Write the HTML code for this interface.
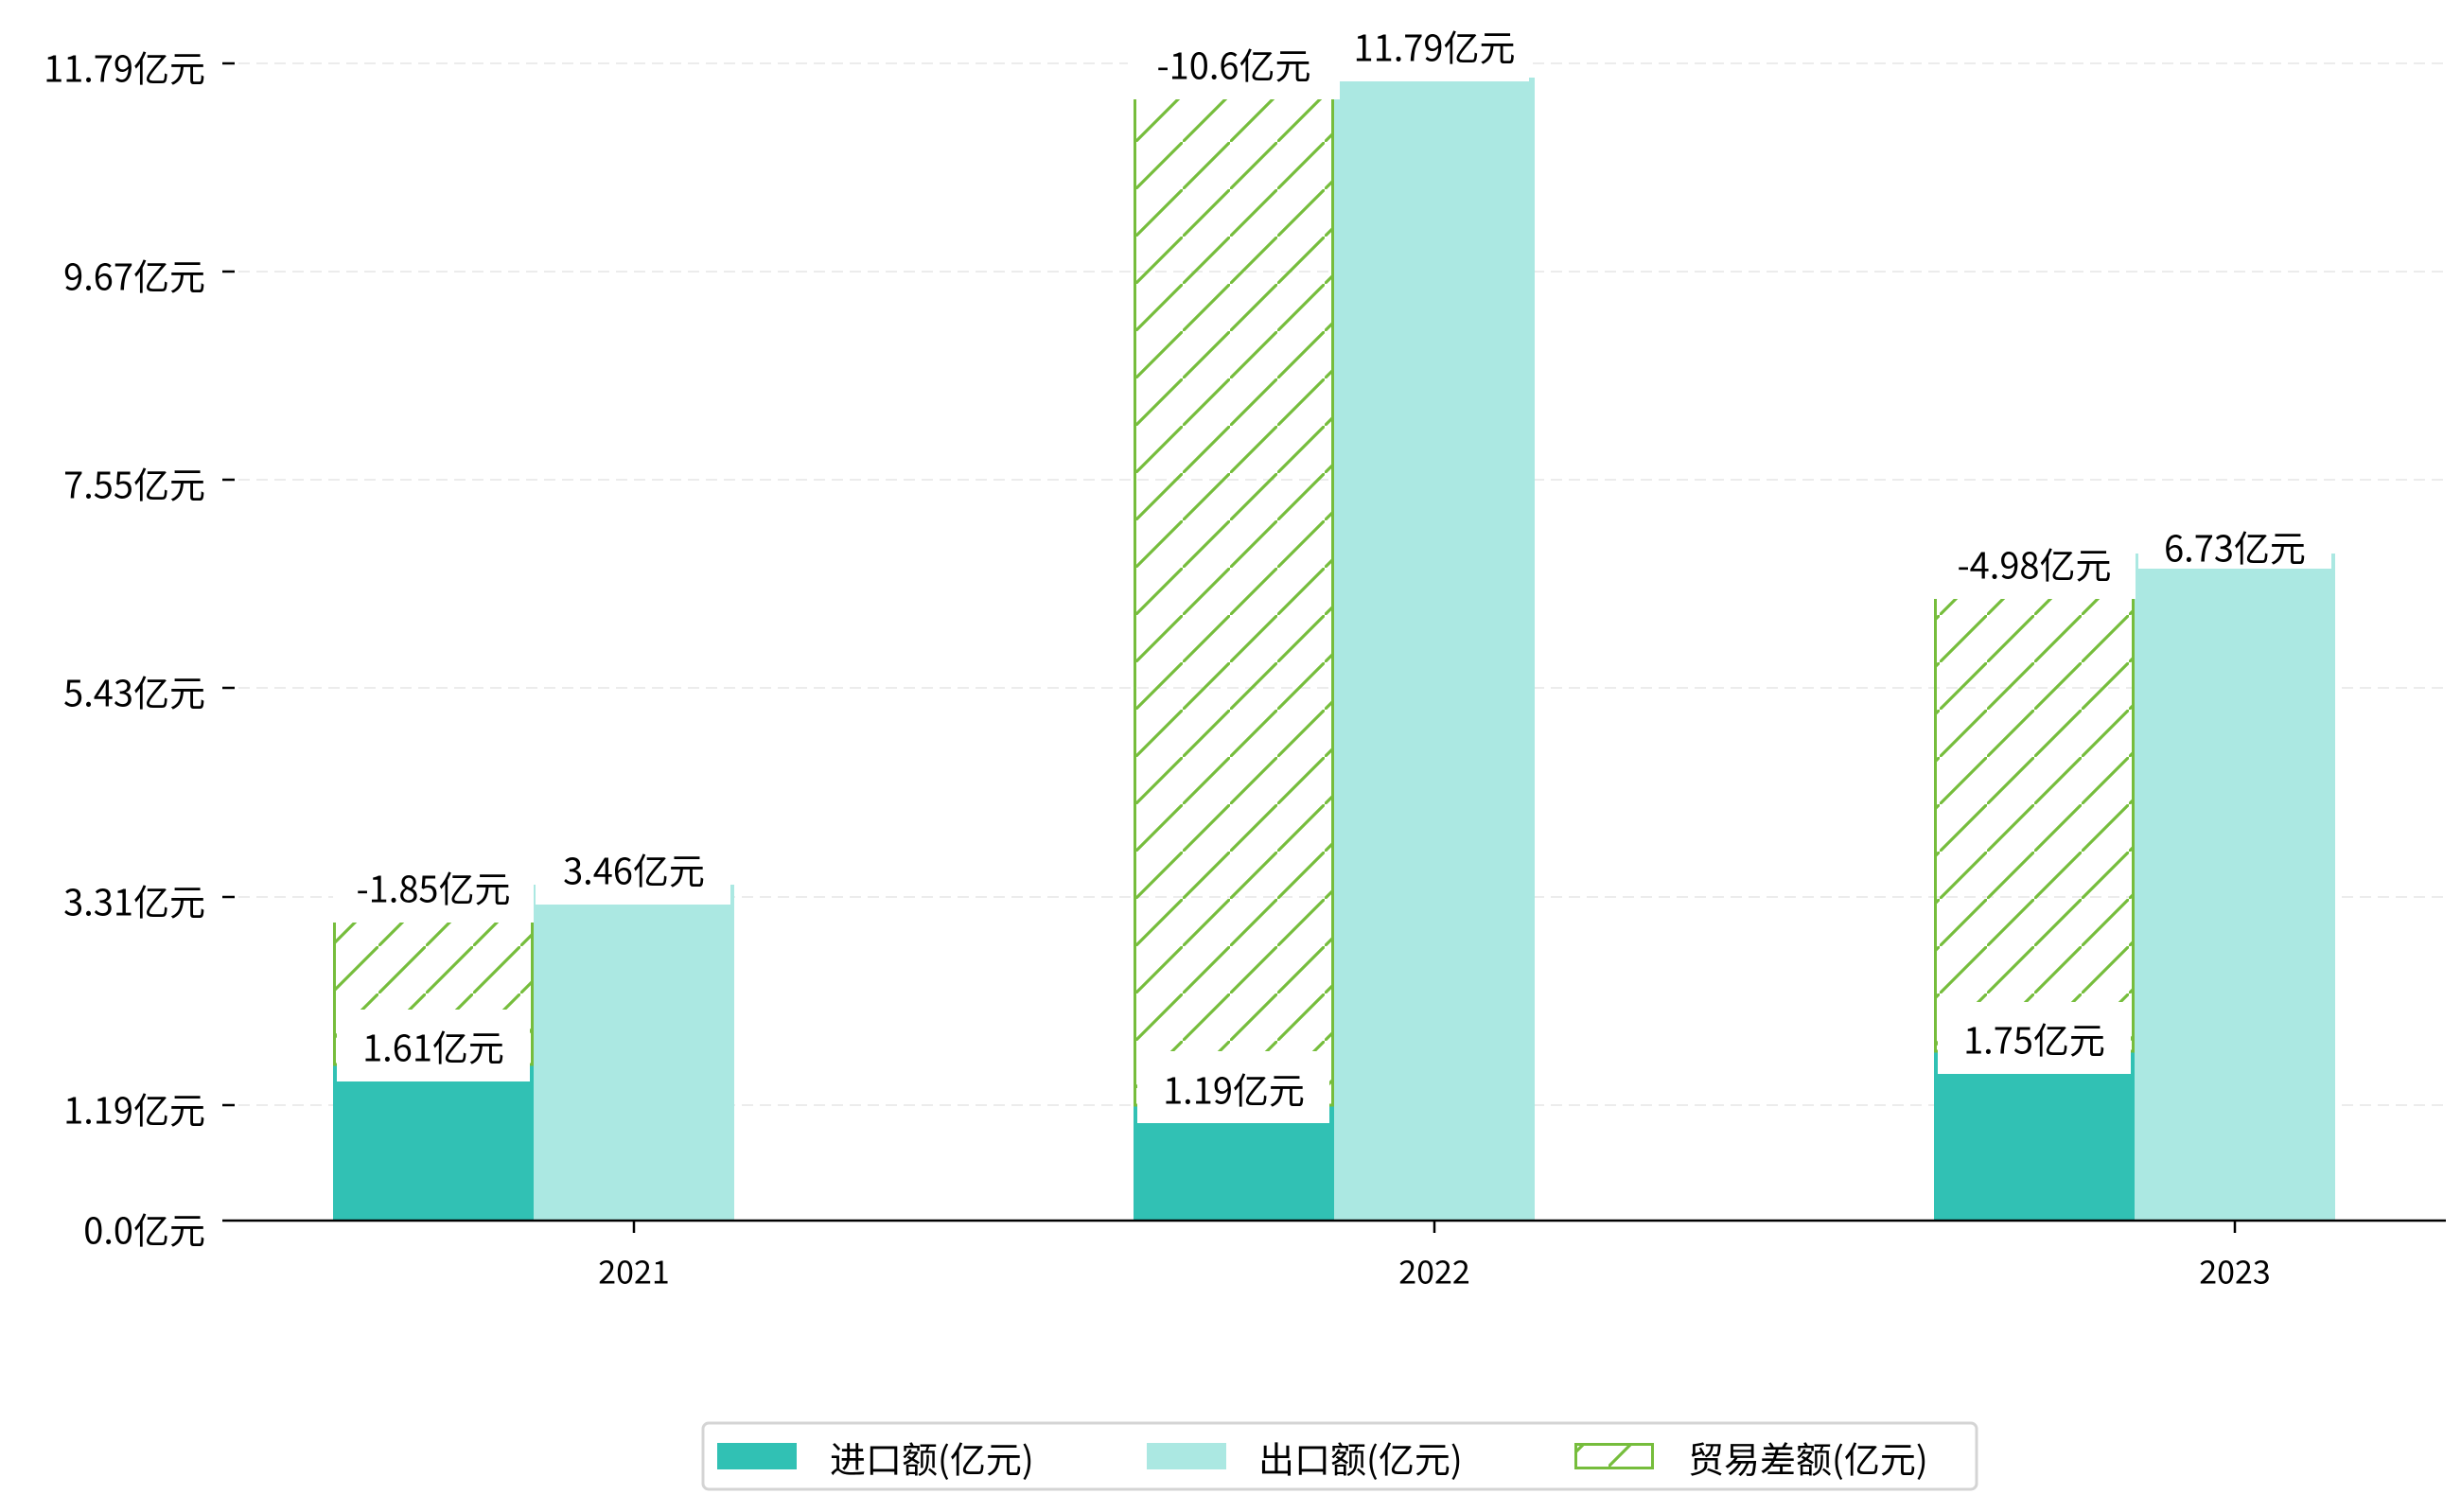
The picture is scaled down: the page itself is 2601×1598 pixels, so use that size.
<!DOCTYPE html>
<html><head><meta charset="utf-8"><style>
html,body{margin:0;padding:0;background:#fff;}
svg{display:block;}
text{font-family:"WenQuanYi Zen Hei","Noto Sans CJK SC","Liberation Sans",sans-serif;fill:#000;}
</style></head><body>
<svg width="2601" height="1598" viewBox="0 0 2601 1598" xmlns="http://www.w3.org/2000/svg">
<defs>
<pattern id="h" patternUnits="userSpaceOnUse" width="50" height="50">
<line x1="-5" y1="55" x2="55" y2="-5" stroke="#76bd3c" stroke-width="3.2"/>
</pattern>
</defs>
<g stroke="#ececec" stroke-width="2" stroke-dasharray="12,7">
<line x1="252" y1="67" x2="2585" y2="67"/>
<line x1="252" y1="287" x2="2585" y2="287"/>
<line x1="252" y1="507" x2="2585" y2="507"/>
<line x1="252" y1="727" x2="2585" y2="727"/>
<line x1="252" y1="948" x2="2585" y2="948"/>
<line x1="252" y1="1168" x2="2585" y2="1168"/>
</g>
<g stroke="#000" stroke-width="2.5">
<line x1="235" y1="67" x2="248" y2="67"/>
<line x1="235" y1="287" x2="248" y2="287"/>
<line x1="235" y1="507" x2="248" y2="507"/>
<line x1="235" y1="727" x2="248" y2="727"/>
<line x1="235" y1="948" x2="248" y2="948"/>
<line x1="235" y1="1168" x2="248" y2="1168"/>
</g>
<g font-size="38" text-anchor="end" dominant-baseline="central">
<text x="217" y="70">11.79亿元</text>
<text x="217" y="290">9.67亿元</text>
<text x="217" y="510">7.55亿元</text>
<text x="217" y="730">5.43亿元</text>
<text x="217" y="951">3.31亿元</text>
<text x="217" y="1171">1.19亿元</text>
<text x="217" y="1298">0.0亿元</text>
</g>
<rect x="352" y="1125" width="212" height="165" fill="#31c1b4"/>
<rect x="564" y="935" width="212" height="355" fill="#abe8e2"/>
<rect x="353.5" y="935" width="209" height="190" fill="url(#h)" stroke="#76bd3c" stroke-width="3"/>

<rect x="1198" y="1168" width="212" height="122" fill="#31c1b4"/>
<rect x="1410" y="82" width="212" height="1208" fill="#abe8e2"/>
<rect x="1199.5" y="82" width="209" height="1086" fill="url(#h)" stroke="#76bd3c" stroke-width="3"/>

<rect x="2044" y="1111" width="212" height="179" fill="#31c1b4"/>
<rect x="2256" y="585" width="212" height="705" fill="#abe8e2"/>
<rect x="2045.5" y="601" width="209" height="510" fill="url(#h)" stroke="#76bd3c" stroke-width="3"/>

<g fill="#fff">
<rect x="356" y="1067" width="204" height="76"/>
<rect x="566" y="880" width="206" height="76"/>
<rect x="352" y="899" width="212" height="76"/>
<rect x="1202" y="1111" width="203" height="76"/>
<rect x="1416" y="10" width="200" height="76"/>
<rect x="1192" y="29" width="224" height="76"/>
<rect x="2048" y="1059" width="204" height="76"/>
<rect x="2260" y="539" width="204" height="62"/>
<rect x="2043" y="557" width="214" height="76"/>
</g>
<g font-size="38" text-anchor="middle" dominant-baseline="central">
<text x="458" y="1105">1.61亿元</text>
<text x="670" y="918">3.46亿元</text>
<text x="458" y="937">-1.85亿元</text>
<text x="1304" y="1150">1.19亿元</text>
<text x="1516" y="48">11.79亿元</text>
<text x="1304" y="67">-10.6亿元</text>
<text x="2150" y="1097">1.75亿元</text>
<text x="2362" y="577">6.73亿元</text>
<text x="2150" y="595">-4.98亿元</text>
</g>
<line x1="235" y1="1290" x2="2585" y2="1290" stroke="#000" stroke-width="2.5"/>
<g stroke="#000" stroke-width="2.5">
<line x1="670" y1="1290" x2="670" y2="1303"/>
<line x1="1516" y1="1290" x2="1516" y2="1303"/>
<line x1="2362" y1="1290" x2="2362" y2="1303"/>
</g>
<g font-size="34" text-anchor="middle" dominant-baseline="central">
<text x="670" y="1342">2021</text>
<text x="1516" y="1342">2022</text>
<text x="2362" y="1342">2023</text>
</g>
<rect x="743" y="1504" width="1346" height="70" rx="6" fill="#fff" stroke="#d4d4d4" stroke-width="3"/>
<rect x="758" y="1525" width="84" height="28" fill="#31c1b4"/>
<rect x="1212" y="1525" width="84" height="28" fill="#abe8e2"/>
<rect x="1665.5" y="1526.5" width="81" height="25" fill="url(#h)" stroke="#76bd3c" stroke-width="3"/>
<g font-size="38" dominant-baseline="central">
<text x="877" y="1540">进口额(亿元)</text>
<text x="1330" y="1540">出口额(亿元)</text>
<text x="1784" y="1540">贸易差额(亿元)</text>
</g>
</svg>
</body></html>
